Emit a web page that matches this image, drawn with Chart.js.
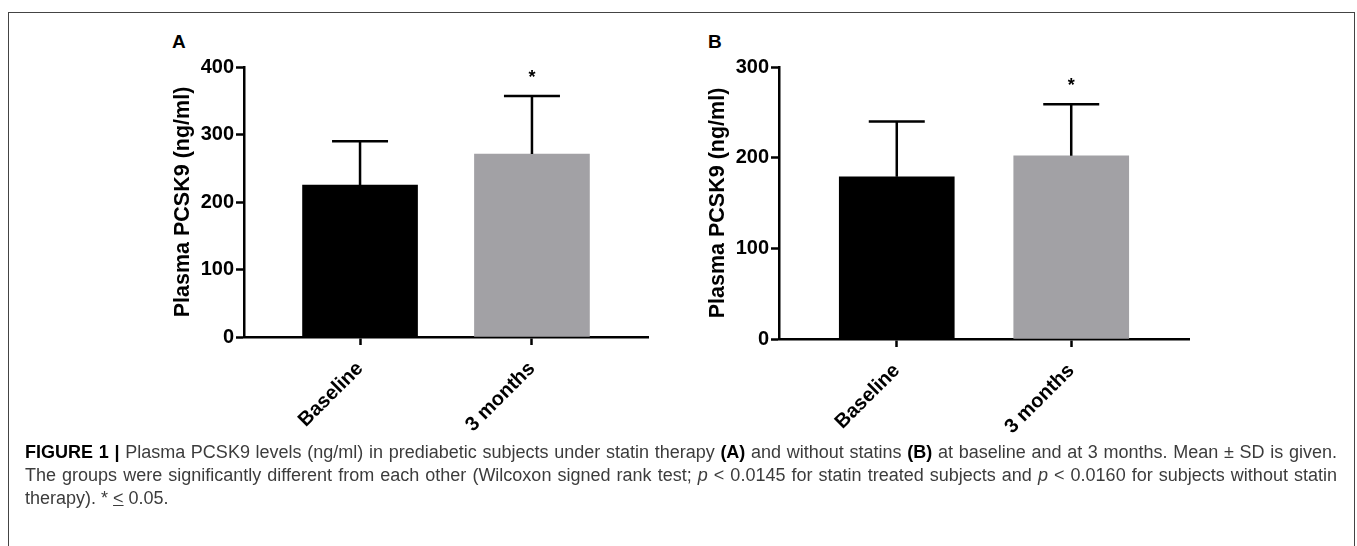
<!DOCTYPE html>
<html>
<head>
<meta charset="utf-8">
<script src="https://cdn.jsdelivr.net/npm/chart.js@4.4.1/dist/chart.umd.min.js"></script>
<style>
  body { margin: 0; background: #fff; width: 1357px; height: 546px; overflow: hidden; position: relative; font-family: 'Liberation Sans', Arial, sans-serif; }
  .frame { position: absolute; left: 8px; top: 12px; width: 1345px; height: 600px; border: 1px solid #444; }
  .wrap { position: absolute; top: 20px; width: 570px; height: 430px; }
  .panel { position: absolute; font-weight: bold; font-size: 19px; color: #000; }
  .caption { position: absolute; left: 25px; top: 441px; width: 1312px; font-size: 18px; line-height: 23px; color: #3c3c3c; text-align: justify; }
  .caption b { color: #000; }
</style>
</head>
<body>
<div class="frame"></div>
<div class="panel" style="left:172px; top:31px;">A</div>
<div class="panel" style="left:708px; top:31px;">B</div>
<div class="wrap" style="left:110px;"><canvas id="chartA"></canvas></div>
<div class="wrap" style="left:645px;"><canvas id="chartB"></canvas></div>
<div class="caption"><b>FIGURE 1 |</b> Plasma PCSK9 levels (ng/ml) in prediabetic subjects under statin therapy <b>(A)</b> and without statins <b>(B)</b> at baseline and at 3 months. Mean ± SD is given. The groups were significantly different from each other (Wilcoxon signed rank test; <i>p</i> &lt; 0.0145 for statin treated subjects and <i>p</i> &lt; 0.0160 for subjects without statin therapy). * <u>&lt;</u> 0.05.</div>

<script>
var categories = ["Baseline", "3 months"];
var barColors = ["#000000", "#a2a1a5"];

// panel A: under statin therapy
var statinMean = [225, 271];
var statinSD = [65, 86];
var statinTicks = [0, 100, 200, 300, 400];

// panel B: without statins
var noStatinMean = [179, 202];
var noStatinSD = [61, 57];
var noStatinTicks = [0, 100, 200, 300];

var signif = ["", "*"];

var FONT = "'Liberation Sans', Arial, sans-serif";

// mean + SD whiskers (upwards only) and significance stars
var errorBars = {
    id: "errorBars",
    afterDatasetsDraw: function(chart, args, opts) {
        var ctx = chart.ctx;
        var xs = chart.scales.x, ys = chart.scales.y;
        ctx.save();
        ctx.strokeStyle = "#000";
        ctx.lineWidth = 2.5;
        for (let i = 0; i < opts.mean.length; i++) {
            var x = xs.getPixelForValue(i);
            var yb = ys.getPixelForValue(opts.mean[i]);
            var yt = ys.getPixelForValue(opts.mean[i] + opts.sd[i]);
            ctx.beginPath();
            ctx.moveTo(x, yb);
            ctx.lineTo(x, yt);
            ctx.moveTo(x - 28, yt);
            ctx.lineTo(x + 28, yt);
            ctx.stroke();
            if (signif[i]) {
                ctx.fillStyle = "#000";
                ctx.font = "bold 18px " + FONT;
                ctx.textAlign = "center";
                ctx.textBaseline = "middle";
                ctx.fillText(signif[i], x, yt - 18);
            }
        }
        ctx.restore();
    }
};

function makeChart(id, mean, sd, yTicks, xAxisHeight, padRight) {
    var ctx = document.getElementById(id).getContext("2d");
    return new Chart(ctx, {
        type: "bar",
        data: {
            datasets: [{
                data: mean.map(function(v, i) { return { x: i, y: v }; }),
                backgroundColor: barColors,
                borderWidth: 0,
                barThickness: 115
            }]
        },
        options: {
            responsive: true,
            maintainAspectRatio: false,
            animation: false,
            layout: { padding: { top: 47, right: padRight, bottom: 0, left: 0 } },
            plugins: {
                legend: { display: false },
                tooltip: { enabled: false },
                errorBars: { mean: mean, sd: sd }
            },
            scales: {
                x: {
                    type: "linear",
                    offset: false,
                    min: -0.675,
                    max: 1.675,
                    afterBuildTicks: function(scale) {
                        scale.ticks = categories.map(function(c, i) { return { value: i }; });
                    },
                    afterFit: function(scale) { scale.height = xAxisHeight; },
                    grid: { offset: false, drawOnChartArea: false, color: "#000", tickLength: 8, tickWidth: 2.5 },
                    border: { color: "#000", width: 2.5 },
                    ticks: {
                        autoSkip: false,
                        minRotation: 45,
                        maxRotation: 45,
                        padding: 12,
                        color: "#000",
                        font: { family: FONT, size: 20, weight: "bold" },
                        callback: function(v) { return categories[v]; }
                    }
                },
                y: {
                    min: yTicks[0],
                    max: yTicks[yTicks.length - 1],
                    afterBuildTicks: function(scale) {
                        scale.ticks = yTicks.map(function(v) { return { value: v }; });
                    },
                    afterFit: function(scale) { scale.width = 134; },
                    grid: { drawOnChartArea: false, color: "#000", tickLength: 8, tickWidth: 2.5 },
                    border: { color: "#000", width: 2.5 },
                    ticks: {
                        padding: 2,
                        color: "#000",
                        font: { family: FONT, size: 20, weight: "bold" }
                    },
                    title: {
                        display: true,
                        text: "Plasma PCSK9 (ng/ml)",
                        color: "#000",
                        font: { family: FONT, size: 21.5, weight: "bold" },
                        padding: { top: 60, bottom: 0 }
                    }
                }
            }
        },
        plugins: [errorBars]
    });
}

makeChart("chartA", statinMean, statinSD, statinTicks, 113, 32);
makeChart("chartB", noStatinMean, noStatinSD, noStatinTicks, 111, 26);
</script>
</body>
</html>
